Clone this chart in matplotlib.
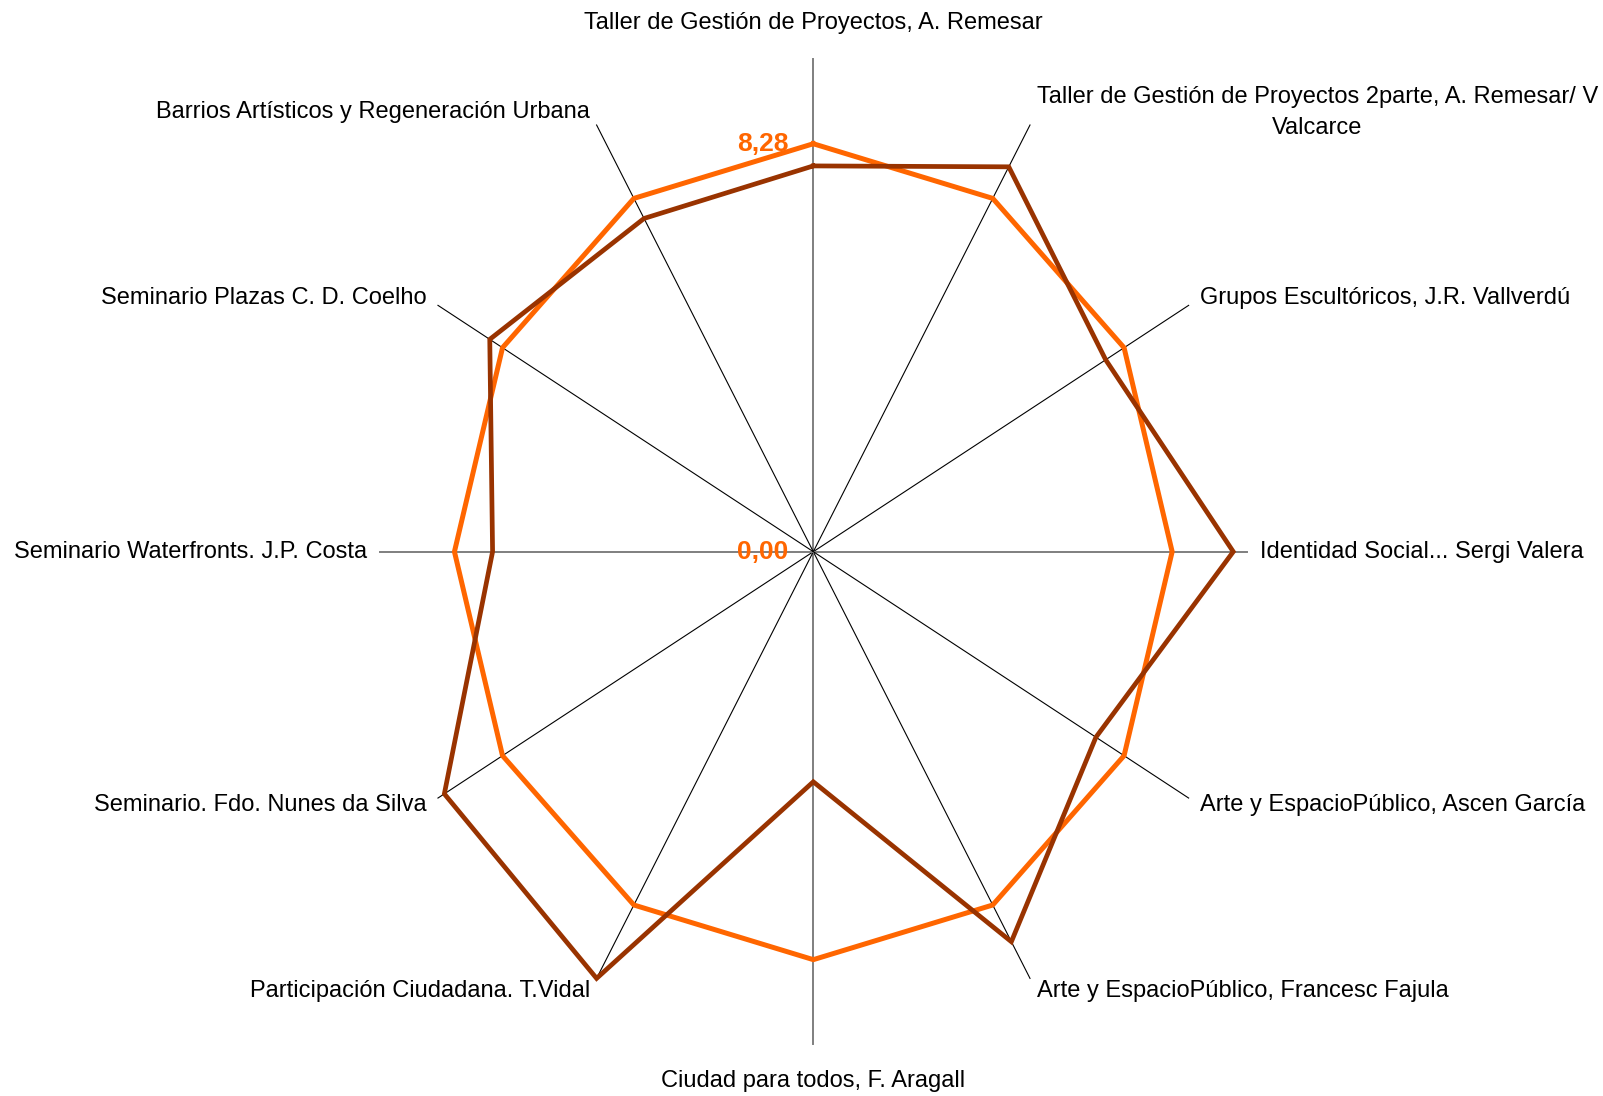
import numpy as np
import matplotlib
matplotlib.use("Agg")
import matplotlib.pyplot as plt

plt.rcParams['font.family'] = ['Liberation Sans', 'DejaVu Sans']

# course names, clockwise from the top
cursos = [
    "Taller de Gestión de Proyectos, A. Remesar",
    "Taller de Gestión de Proyectos 2parte, A. Remesar/ V\nValcarce",
    "Grupos Escultóricos, J.R. Vallverdú",
    "Identidad Social... Sergi Valera",
    "Arte y EspacioPúblico, Ascen García",
    "Arte y EspacioPúblico, Francesc Fajula",
    "Ciudad para todos, F. Aragall",
    "Participación Ciudadana. T.Vidal",
    "Seminario. Fdo. Nunes da Silva",
    "Seminario Waterfronts. J.P. Costa",
    "Seminario Plazas C. D. Coelho",
    "Barrios Artísticos y Regeneración Urbana",
]

# score per course and the overall average
notas = [7.83, 9.02, 7.79, 9.69, 7.53, 9.14, 4.67, 10.0, 9.83, 7.40, 8.62, 7.81]
media = [8.28] * 12

r_max = 10.0
tick_vals = [0.0, 8.28]
tick_txt = ["0,00", "8,28"]

n = len(cursos)
ang = np.arange(n) * 2 * np.pi / n


def to_xy(r):
    r = np.asarray(r, dtype=float)
    return r * np.sin(ang), r * np.cos(ang)


fig = plt.figure(figsize=(16.03, 10.96), dpi=100)
ax = fig.add_axes([0, 0, 1, 1])

# pixel scale: 43.34 px per unit across, 49.27 px per unit up/down
ax.set_xlim(-813.3 / 43.34, (1603 - 813.3) / 43.34)
ax.set_ylim(-(1096 - 551.7) / 49.27, 551.7 / 49.27)
ax.axis('off')

# spokes
for i, a in enumerate(ang):
    if i % 3 == 0:
        ax.plot([0, r_max * np.sin(a)], [0, r_max * np.cos(a)], color='#7f7f7f', lw=1.4, zorder=1)
    else:
        ax.plot([0, r_max * np.sin(a)], [0, r_max * np.cos(a)], color='black', lw=0.8, zorder=1)

# series: average underneath, scores on top
x, y = to_xy(media)
ax.plot(np.append(x, x[0]), np.append(y, y[0]), color='#ff6600', lw=3.6, zorder=2,
        solid_joinstyle='miter')
x, y = to_xy(notas)
ax.plot(np.append(x, x[0]), np.append(y, y[0]), color='#993300', lw=3.4, zorder=3,
        solid_joinstyle='miter')

# value axis labels
for v, t in zip(tick_vals, tick_txt):
    ax.annotate(t, (0, v), xytext=(-18, 0), textcoords='offset points',
                ha='right', va='center', color='#ff6600', fontsize=19,
                fontweight='bold', zorder=4)

# category labels
for i, (lab, a) in enumerate(zip(cursos, ang)):
    s, c = np.sin(a), np.cos(a)
    if abs(s) < 1e-6:
        r = 10.74
        ha = 'center'
    else:
        r = 10.3
        ha = 'left' if s > 0 else 'right'
    ax.text(r * s, r * c, lab, ha=ha, va='center', fontsize=17,
            color='black', linespacing=1.53, multialignment='center')

fig.savefig('out.png', dpi=100)
